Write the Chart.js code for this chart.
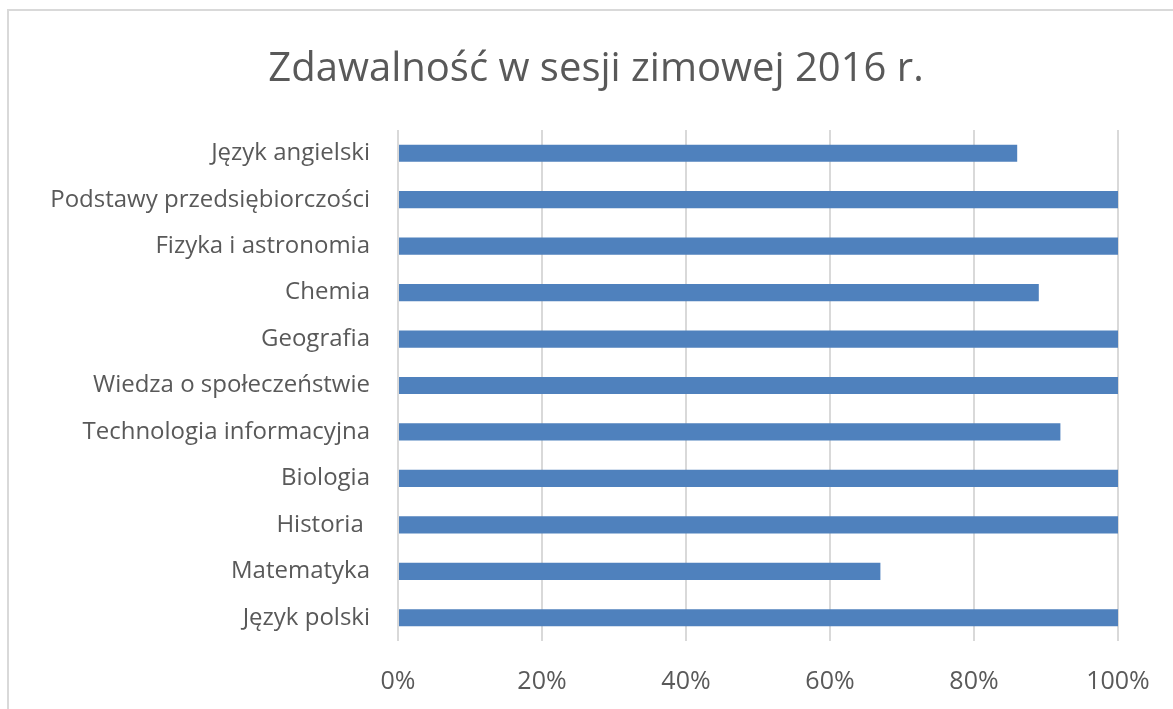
<!DOCTYPE html>
<html>
<head>
<meta charset="utf-8">
<script src="https://cdn.jsdelivr.net/npm/chart.js@4"></script>
<style>
  body { margin: 0; background: #fff; overflow: hidden; }
  #frame { position: absolute; left: 7px; top: 9px; width: 1200px; height: 720px;
           border-left: 2px solid #d9d9d9; border-top: 2px solid #d9d9d9; }
  #wrap { position: absolute; left: 0; top: 0; width: 1173px; height: 709px; }
</style>
</head>
<body>
<div id="frame"></div>
<div id="wrap"><canvas id="zdawalnosc"></canvas></div>
<script>
const przedmioty = ['Język angielski', 'Podstawy przedsiębiorczości', 'Fizyka i astronomia', 'Chemia',
  'Geografia', 'Wiedza o społeczeństwie', 'Technologia informacyjna', 'Biologia', 'Historia ',
  'Matematyka', 'Język polski'];
const zdawalnosc = [86, 100, 100, 89, 100, 100, 92, 100, 100, 67, 100]; // w procentach
const osX = [0, 20, 40, 60, 80, 100];

const szary = '#595959';

document.addEventListener("DOMContentLoaded", function () {
  const ctx = document.getElementById('zdawalnosc').getContext('2d');
  new Chart(ctx, {
    type: 'bar',
    data: {
      labels: przedmioty,
      datasets: [{
        data: zdawalnosc,
        backgroundColor: '#4f81bd',
        borderWidth: 0,
        barPercentage: 0.37,
        categoryPercentage: 1
      }]
    },
    options: {
      indexAxis: 'y',
      responsive: true,
      maintainAspectRatio: false,
      animation: false,
      // tytuł wyśrodkowany na ramce, nie na obszarze wykresu
      layout: { padding: { left: 38, right: 19, top: 0, bottom: 0 } },
      plugins: {
        legend: { display: false },
        tooltip: { enabled: false },
        title: {
          display: true,
          text: 'Zdawalność w sesji zimowej 2016 r.',
          color: szary,
          font: { family: 'Open Sans', size: 40, weight: 'normal' },
          padding: { top: 46, bottom: 36 }
        }
      },
      scales: {
        x: {
          min: 0,
          max: 100,
          afterBuildTicks: function (scale) {
            scale.ticks = osX.map(function (v) { return { value: v }; });
          },
          afterFit: function (scale) {
            scale.height = 68;
            scale.paddingLeft = 0;
            scale.paddingRight = 55;
          },
          ticks: {
            color: szary,
            padding: 26,
            font: { family: 'Open Sans', size: 25 },
            callback: function (v) { return v + '%'; }
          },
          grid: { color: '#d9d9d9', lineWidth: 2, drawTicks: false },
          border: { display: false }
        },
        y: {
          afterFit: function (scale) { scale.width = 360; },
          ticks: {
            color: szary,
            padding: 20,
            font: { family: 'Open Sans', size: 24 }
          },
          grid: { display: false },
          border: { display: false }
        }
      }
    }
  });
});
</script>
</body>
</html>
